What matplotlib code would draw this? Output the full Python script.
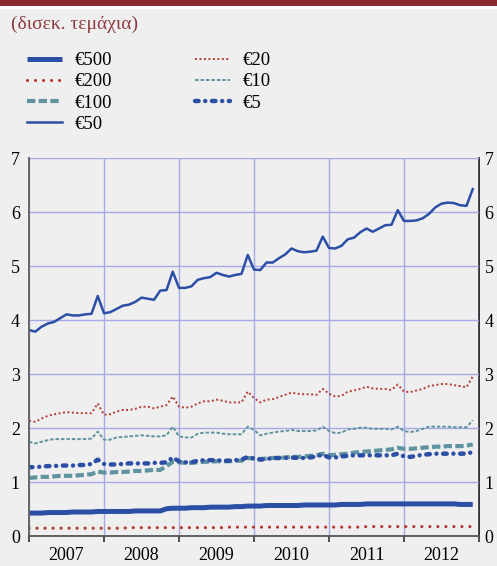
import matplotlib
matplotlib.use("Agg")
import matplotlib.pyplot as plt
from matplotlib.patches import Rectangle
import numpy as np

plt.rcParams['font.family'] = ['Liberation Serif', 'DejaVu Serif']

years = ["2007", "2008", "2009", "2010", "2011", "2012"]
labels = ["€500", "€200", "€100", "€50", "€20", "€10", "€5"]

eur500 = [0.43,0.43,0.43,0.44,0.44,0.44,0.44,0.45,0.45,0.45,0.45,0.46,
          0.46,0.46,0.46,0.46,0.46,0.47,0.47,0.47,0.47,0.47,0.51,0.52,
          0.52,0.52,0.53,0.53,0.53,0.54,0.54,0.54,0.54,0.55,0.55,0.56,
          0.56,0.56,0.57,0.57,0.57,0.57,0.57,0.57,0.58,0.58,0.58,0.58,
          0.58,0.58,0.59,0.59,0.59,0.59,0.60,0.60,0.60,0.60,0.60,0.60,
          0.60,0.60,0.60,0.60,0.60,0.60,0.60,0.60,0.60,0.59,0.59,0.59]
eur200 = [0.15,0.15,0.15,0.15,0.15,0.15,0.15,0.15,0.15,0.15,0.15,0.15,
          0.15,0.15,0.15,0.15,0.16,0.16,0.16,0.16,0.16,0.16,0.16,0.16,
          0.16,0.16,0.16,0.16,0.16,0.16,0.16,0.16,0.17,0.17,0.17,0.17,
          0.17,0.17,0.17,0.17,0.17,0.17,0.17,0.17,0.17,0.17,0.17,0.17,
          0.17,0.17,0.17,0.17,0.17,0.17,0.18,0.18,0.18,0.18,0.18,0.18,
          0.18,0.18,0.18,0.18,0.18,0.18,0.18,0.18,0.18,0.18,0.18,0.18]
eur100 = [1.08,1.09,1.10,1.10,1.11,1.12,1.12,1.12,1.13,1.14,1.15,1.20,
          1.18,1.18,1.19,1.19,1.20,1.21,1.21,1.22,1.23,1.23,1.30,1.38,
          1.37,1.36,1.36,1.37,1.38,1.38,1.39,1.39,1.39,1.40,1.40,1.45,
          1.44,1.43,1.44,1.45,1.45,1.46,1.47,1.47,1.48,1.49,1.50,1.53,
          1.50,1.51,1.52,1.53,1.55,1.56,1.57,1.58,1.59,1.60,1.61,1.64,
          1.62,1.62,1.63,1.64,1.65,1.66,1.66,1.67,1.67,1.67,1.68,1.70]
eur50 = [3.82,3.79,3.88,3.94,3.97,4.04,4.11,4.09,4.09,4.11,4.12,4.45,
         4.13,4.15,4.21,4.27,4.29,4.34,4.42,4.40,4.38,4.55,4.56,4.90,
         4.60,4.60,4.63,4.75,4.78,4.80,4.88,4.84,4.81,4.84,4.86,5.21,
         4.94,4.93,5.07,5.07,5.15,5.22,5.33,5.28,5.26,5.27,5.29,5.55,
         5.34,5.33,5.38,5.50,5.53,5.63,5.70,5.64,5.70,5.76,5.77,6.04,
         5.84,5.84,5.85,5.89,5.97,6.09,6.16,6.18,6.17,6.13,6.12,6.43]
eur20 = [2.14,2.12,2.18,2.23,2.26,2.28,2.30,2.29,2.28,2.28,2.28,2.46,
         2.25,2.26,2.31,2.34,2.34,2.36,2.40,2.40,2.37,2.40,2.43,2.59,
         2.40,2.38,2.40,2.46,2.50,2.50,2.53,2.51,2.48,2.48,2.48,2.68,
         2.56,2.48,2.53,2.54,2.58,2.62,2.66,2.64,2.63,2.63,2.62,2.73,
         2.64,2.59,2.60,2.68,2.70,2.73,2.77,2.74,2.73,2.73,2.71,2.81,
         2.68,2.67,2.70,2.73,2.78,2.80,2.82,2.82,2.80,2.78,2.76,2.96]
eur10 = [1.75,1.72,1.75,1.78,1.80,1.80,1.80,1.80,1.80,1.80,1.81,1.94,
         1.79,1.79,1.83,1.84,1.85,1.86,1.87,1.86,1.85,1.85,1.87,2.03,
         1.85,1.83,1.83,1.90,1.92,1.92,1.92,1.90,1.89,1.89,1.89,2.03,
         1.97,1.87,1.90,1.92,1.94,1.95,1.97,1.95,1.95,1.95,1.96,2.03,
         1.95,1.91,1.92,1.98,1.99,2.01,2.01,1.99,1.99,1.99,1.98,2.03,
         1.95,1.93,1.95,1.99,2.03,2.03,2.03,2.03,2.02,2.02,2.02,2.15]
eur5 = [1.28,1.28,1.29,1.30,1.30,1.31,1.31,1.31,1.32,1.32,1.34,1.42,
        1.34,1.33,1.33,1.34,1.35,1.35,1.35,1.35,1.36,1.36,1.37,1.46,
        1.39,1.37,1.37,1.40,1.41,1.41,1.41,1.40,1.40,1.41,1.42,1.47,
        1.44,1.42,1.43,1.45,1.45,1.45,1.46,1.45,1.45,1.46,1.48,1.51,
        1.46,1.46,1.48,1.49,1.50,1.50,1.50,1.50,1.50,1.50,1.50,1.53,
        1.48,1.47,1.49,1.51,1.52,1.53,1.53,1.53,1.53,1.53,1.53,1.56]

BG = '#efefef'
BLUE = '#2c4fa6'
RED = '#b7392d'
TEAL = '#5f939f'
GRID = '#a5aae6'

fig = plt.figure(figsize=(4.97, 5.66), dpi=100, facecolor=BG)
fig.add_artist(Rectangle((0, 1 - 6/566), 1, 6/566, transform=fig.transFigure,
                         facecolor='#8a2a33', edgecolor='none'))
fig.add_artist(Rectangle((0, 1 - 9/566), 1, 3/566, transform=fig.transFigure,
                         facecolor='white', edgecolor='none'))
fig.text(11/497, 1 - 24/566, "(δισεκ. τεμάχια)", color='#8e3a40',
         fontsize=14, va='center', ha='left')

ax = fig.add_axes([29/497, (566 - 536.3)/566, 450/497, 378/566], facecolor=BG)
x = np.arange(len(eur50))

h500, = ax.plot(x, eur500, color=BLUE, lw=3.6, solid_capstyle='butt')
h200, = ax.plot(x, eur200, color=RED, lw=2.3, dash_capstyle='round',
                dashes=(0.01, 2.5))
h100, = ax.plot(x, eur100, color=TEAL, lw=3.0, dash_capstyle='butt',
                dashes=(2.0, 0.8))
h50, = ax.plot(x, eur50, color=BLUE, lw=1.8)
h20, = ax.plot(x, eur20, color=RED, lw=1.4, dash_capstyle='butt',
               dashes=(1.0, 1.3))
h10, = ax.plot(x, eur10, color=TEAL, lw=1.4, dash_capstyle='butt',
               dashes=(1.8, 1.0))
h5, = ax.plot(x, eur5, color=BLUE, lw=3.2, dash_capstyle='round',
              dashes=(0.8, 1.5, 0.01, 1.5))

ax.set_xlim(0, 72)
ax.set_ylim(0, 7)
ax.set_yticks(range(0, 8))
ax.set_xticks(range(0, 73, 12))
ax.set_xticks(np.arange(6, 72, 12), minor=True)
ax.set_xticklabels([])
ax.set_xticklabels(years, minor=True, fontsize=13)
ax.tick_params(axis='x', which='major', direction='out', length=4, width=1.2,
               color='#333333')
ax.tick_params(axis='x', which='minor', length=0, pad=8)
ax.tick_params(axis='y', which='both', length=0, labelsize=13, pad=6.5,
               left=True, right=False, labelleft=True, labelright=False)

sec = ax.secondary_yaxis('right')
sec.set_yticks(range(0, 8))
sec.tick_params(axis='y', length=0, labelsize=13, pad=4)
sec.spines['right'].set_color('#111111')
sec.spines['right'].set_linewidth(1.2)

ax.grid(True, which='major', color=GRID, lw=1.0)
ax.set_axisbelow(True)
ax.spines['top'].set_visible(False)
ax.spines['right'].set_visible(False)
ax.spines['left'].set_color('#666666')
ax.spines['left'].set_linewidth(1.4)
ax.spines['bottom'].set_color('#555555')
ax.spines['bottom'].set_linewidth(1.3)

leg = fig.legend([h500, h200, h100, h50, h20, h10, h5], labels, ncol=2,
                 loc='upper left', bbox_to_anchor=(27/497, 1 - 52/566),
                 frameon=False, fontsize=13.5, handlelength=1.85,
                 handletextpad=0.7, columnspacing=4.4, labelspacing=0.22,
                 borderpad=0, borderaxespad=0)

fig.savefig('out.png', dpi=100, facecolor=BG)
